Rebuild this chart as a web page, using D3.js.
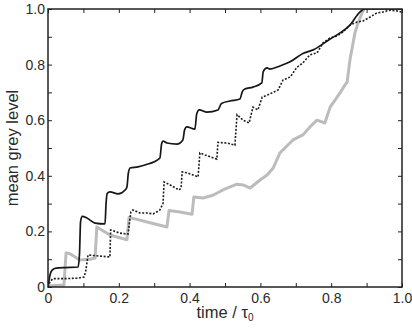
<!DOCTYPE html>
<html>
<head>
<meta charset="utf-8">
<script src="https://cdn.jsdelivr.net/npm/d3@7"></script>
<style>
  body { margin: 0; background: #fff; }
  svg { display: block; font-family: "Liberation Sans", Arial, sans-serif; }
</style>
</head>
<body>
<div id="chart"></div>
<script>
// data (time / tau0, mean grey level)
var solidT = [0, 0.003, 0.006, 0.011, 0.023, 0.05, 0.085, 0.089, 0.092, 0.097, 0.11, 0.133, 0.161, 0.164, 0.167, 0.175, 0.198, 0.218, 0.223, 0.227, 0.232, 0.254, 0.274, 0.316, 0.321, 0.325, 0.336, 0.364, 0.381, 0.386, 0.392, 0.415, 0.42, 0.427, 0.449, 0.48, 0.49, 0.514, 0.542, 0.549, 0.556, 0.579, 0.604, 0.608, 0.619, 0.627, 0.655, 0.684, 0.72, 0.749, 0.797, 0.825, 0.853, 0.881, 0.895, 0.95, 1.0];
var solidV = [0, 0.025, 0.045, 0.06, 0.068, 0.07, 0.072, 0.12, 0.235, 0.254, 0.248, 0.23, 0.227, 0.3, 0.336, 0.342, 0.335, 0.349, 0.36, 0.41, 0.428, 0.432, 0.439, 0.464, 0.515, 0.525, 0.518, 0.514, 0.529, 0.566, 0.576, 0.568, 0.622, 0.637, 0.629, 0.637, 0.66, 0.669, 0.676, 0.703, 0.712, 0.719, 0.734, 0.775, 0.788, 0.784, 0.795, 0.81, 0.84, 0.853, 0.892, 0.914, 0.942, 0.989, 1.0, 1.0, 1.0];

var dotT = [0, 0.006, 0.014, 0.048, 0.085, 0.102, 0.107, 0.113, 0.175, 0.177, 0.203, 0.226, 0.234, 0.24, 0.26, 0.28, 0.297, 0.316, 0.325, 0.328, 0.345, 0.37, 0.376, 0.379, 0.395, 0.424, 0.429, 0.443, 0.477, 0.48, 0.506, 0.528, 0.534, 0.551, 0.568, 0.579, 0.593, 0.605, 0.619, 0.636, 0.65, 0.664, 0.684, 0.703, 0.72, 0.74, 0.76, 0.777, 0.797, 0.816, 0.833, 0.853, 0.873, 0.89, 0.91, 0.929, 0.946, 0.966, 0.986, 1.0];
var dotV = [0, 0.02, 0.03, 0.03, 0.032, 0.036, 0.06, 0.115, 0.108, 0.205, 0.194, 0.19, 0.27, 0.277, 0.266, 0.266, 0.263, 0.277, 0.3, 0.378, 0.367, 0.349, 0.356, 0.414, 0.41, 0.396, 0.482, 0.475, 0.46, 0.52, 0.518, 0.51, 0.62, 0.6, 0.59, 0.647, 0.637, 0.683, 0.69, 0.7, 0.709, 0.745, 0.755, 0.79, 0.806, 0.835, 0.842, 0.878, 0.896, 0.903, 0.917, 0.942, 0.953, 0.957, 0.971, 0.986, 0.989, 0.996, 0.993, 0.989];

var greyT = [0, 0.045, 0.051, 0.062, 0.09, 0.119, 0.133, 0.138, 0.175, 0.223, 0.229, 0.246, 0.28, 0.336, 0.342, 0.373, 0.407, 0.412, 0.438, 0.466, 0.494, 0.534, 0.551, 0.571, 0.599, 0.619, 0.636, 0.655, 0.692, 0.72, 0.74, 0.76, 0.782, 0.797, 0.825, 0.839, 0.845, 0.853, 0.867, 0.876, 0.887, 0.893];
var greyV = [0.004, 0.007, 0.122, 0.12, 0.097, 0.1, 0.104, 0.216, 0.187, 0.17, 0.25, 0.245, 0.234, 0.216, 0.275, 0.27, 0.262, 0.324, 0.32, 0.33, 0.349, 0.37, 0.367, 0.356, 0.385, 0.403, 0.428, 0.482, 0.529, 0.547, 0.576, 0.6, 0.59, 0.647, 0.698, 0.727, 0.737, 0.817, 0.914, 0.95, 0.985, 1.0];

var tickVals = [0, 0.1, 0.2, 0.3, 0.4, 0.5, 0.6, 0.7, 0.8, 0.9, 1.0];

// dimensions
var margin = { top: 9, right: 10, bottom: 41, left: 48 },
    width = 412 - margin.left - margin.right,
    height = 328 - margin.top - margin.bottom;

var svg = d3.select("#chart")
    .append("svg")
    .attr("width", 412)
    .attr("height", 328)
    .append("g")
    .attr("transform", "translate(" + margin.left + "," + margin.top + ")");

var x = d3.scaleLinear().domain([0, 1]).range([0, width]);
var y = d3.scaleLinear().domain([0, 1]).range([height, 0]);

function fmt(d) {
    if (Math.round(d * 10) % 2 !== 0) return "";
    return d === 0 ? "0" : d3.format(".1f")(d);
}

svg.append("clipPath").attr("id", "clip")
    .append("rect").attr("width", width).attr("height", height);

function pairs(ts, vs) {
    return ts.map(function(t, i) { return [t, vs[i]]; });
}

var line = d3.line()
    .x(function(d) { return x(d[0]); })
    .y(function(d) { return y(d[1]); });

var plot = svg.append("g").attr("clip-path", "url(#clip)");

// grey series (noisy band)
plot.append("path")
    .datum(pairs(greyT, greyV))
    .attr("fill", "none")
    .attr("stroke", "#bcbcbc")
    .attr("stroke-width", 3)
    .attr("stroke-linejoin", "round")
    .attr("d", line);

// dotted black series
plot.append("path")
    .datum(pairs(dotT, dotV))
    .attr("fill", "none")
    .attr("stroke", "#1e1e1e")
    .attr("stroke-width", 1.6)
    .attr("stroke-dasharray", "2,1.6")
    .attr("d", line);

// solid black series
plot.append("path")
    .datum(pairs(solidT, solidV))
    .attr("fill", "none")
    .attr("stroke", "#161616")
    .attr("stroke-width", 1.7)
    .attr("d", line.curve(d3.curveMonotoneX));

// axes, ticks pointing inward on all four sides
function styleAxis(g) {
    g.select(".domain").remove();
    g.selectAll(".tick line").attr("stroke", "#222").attr("stroke-width", 1);
    g.selectAll("text").attr("fill", "#2a2a2a").style("font-size", "14px");
}

svg.append("g")
    .attr("transform", "translate(0," + height + ")")
    .call(d3.axisBottom(x).tickValues(tickVals).tickFormat(fmt).tickSizeInner(-4).tickSizeOuter(0).tickPadding(6))
    .call(styleAxis);

svg.append("g")
    .call(d3.axisLeft(y).tickValues(tickVals).tickFormat(fmt).tickSizeInner(-4).tickSizeOuter(0).tickPadding(3))
    .call(styleAxis);

svg.append("g")
    .call(d3.axisTop(x).tickValues(tickVals).tickFormat("").tickSizeInner(-4).tickSizeOuter(0))
    .call(styleAxis);

svg.append("g")
    .attr("transform", "translate(" + width + ",0)")
    .call(d3.axisRight(y).tickValues(tickVals).tickFormat("").tickSizeInner(-4).tickSizeOuter(0))
    .call(styleAxis);

svg.append("rect")
    .attr("width", width)
    .attr("height", height)
    .attr("fill", "none")
    .attr("stroke", "#222")
    .attr("stroke-width", 1.5);

// axis titles
var xt = svg.append("text")
    .attr("x", width / 2)
    .attr("y", height + 31)
    .attr("text-anchor", "middle")
    .attr("fill", "#2a2a2a")
    .style("font-size", "16.5px")
    .text("time / τ");
xt.append("tspan")
    .attr("dy", 3)
    .style("font-size", "10px")
    .text("0");

svg.append("text")
    .attr("transform", "translate(" + (18 - margin.left) + "," + (height / 2) + ") rotate(-90)")
    .attr("text-anchor", "middle")
    .attr("fill", "#2a2a2a")
    .style("font-size", "16.5px")
    .text("mean grey level");
</script>
</body>
</html>
